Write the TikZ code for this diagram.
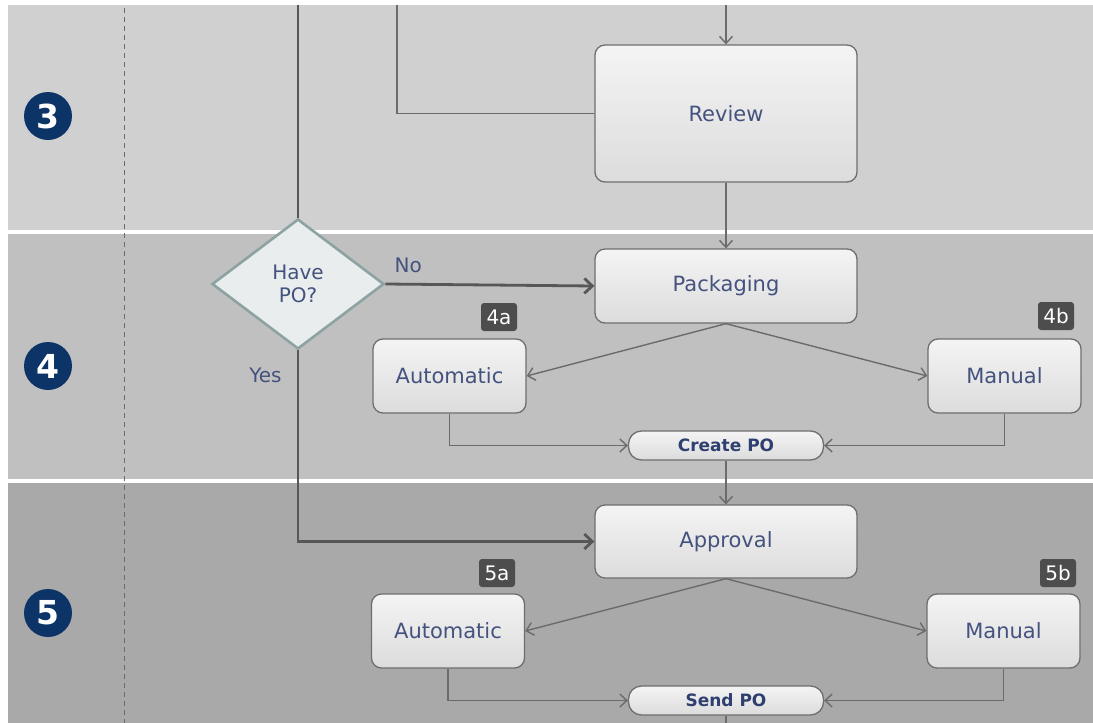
\documentclass[tikz,border=0pt]{standalone}
\usepackage{fontspec}
\setmainfont{DejaVu Sans}
\usetikzlibrary{arrows.meta,shapes.geometric}
\definecolor{laneA}{HTML}{D0D0D0}
\definecolor{laneB}{HTML}{C0C0C0}
\definecolor{laneC}{HTML}{A9A9A9}
\definecolor{boxtop}{HTML}{F4F4F4}
\definecolor{boxbot}{HTML}{DCDCDC}
\definecolor{boxline}{HTML}{6E6E6E}
\definecolor{txt}{HTML}{44527E}
\definecolor{txtb}{HTML}{2F4070}
\definecolor{badgefill}{HTML}{4D4D4D}
\definecolor{navy}{HTML}{0C3467}
\definecolor{lineclr}{HTML}{6B6B6B}
\definecolor{heavyclr}{HTML}{575757}
\definecolor{diaedge}{HTML}{8DA2A2}
\definecolor{diafill}{HTML}{E9EDED}
\tikzset{
 box/.style={draw=boxline, line width=1.3pt, rounded corners=10pt, top color=boxtop, bottom color=boxbot, text=txt, font=\fontsize{21}{25}\selectfont, inner sep=0pt},
 pill/.style={draw=boxline, line width=1.3pt, rounded corners=13pt, top color=boxtop, bottom color=boxbot, text=txtb, font=\bfseries\fontsize{17}{19}\selectfont, inner sep=0pt, minimum width=195pt, minimum height=29pt},
 badge/.style={fill=badgefill, rounded corners=3pt, text=white, font=\fontsize{20}{22}\selectfont, minimum width=36pt, minimum height=28pt, inner sep=0pt},
 num/.style={circle, fill=navy, text=white, font=\bfseries\fontsize{33}{35}\selectfont, minimum size=48pt, inner sep=0pt},
 conn/.style={draw=lineclr, line width=1.4pt},
 arr/.style={conn, -{Straight Barb[length=7pt,width=13pt]}},
 heavy/.style={draw=heavyclr, line width=2.8pt},
 harr/.style={heavy, -{Straight Barb[length=8pt,width=15pt]}},
 lbl/.style={text=txt, font=\fontsize{20}{24}\selectfont, inner sep=0pt},
 dec/.style={diamond, draw=diaedge, line width=2.6pt, fill=diafill, minimum width=172pt, minimum height=130pt, inner sep=0pt, text=txt, font=\fontsize{20}{23}\selectfont, align=center},
 auto/.style={box, minimum width=153pt, minimum height=74pt},
 big/.style={box, minimum width=262pt}
}
\begin{document}
\begin{tikzpicture}[x=1pt,y=-1pt]
\useasboundingbox (0,0) rectangle (1093,723);
\fill[white] (0,0) rectangle (1093,723);
% lanes
\fill[laneA] (8,5) rectangle (1093,230);
\fill[laneB] (8,234) rectangle (1093,479);
\fill[laneC] (8,483) rectangle (1093,723);
\draw[lineclr, line width=1pt, dash pattern=on 5pt off 4pt] (124,8) -- (124,723);
% step numbers
\node[num] (n3) at (48,116) {3};
\node[num] (n4) at (48,366) {4};
\node[num] (n5) at (48,613) {5};
% nodes
\node[big, minimum height=137pt] (rev) at (726,113.5) {Review};
\node[big, minimum height=74pt] (pack) at (726,286) {Packaging};
\node[dec] (dia) at (298,284) {Have\\PO?};
\node[auto] (a4) at (449.5,376) {Automatic};
\node[auto] (m4) at (1004.5,376) {Manual};
\node[badge] (b4a) at (499,317) {4a};
\node[badge] (b4b) at (1056,316) {4b};
\node[pill] (cpo) at (726,445.5) {Create PO};
\node[big, minimum height=73pt] (appr) at (726,541.5) {Approval};
\node[auto] (a5) at (448,631) {Automatic};
\node[auto] (m5) at (1003.5,631) {Manual};
\node[badge] (b5a) at (497,573) {5a};
\node[badge] (b5b) at (1058,573) {5b};
\node[pill] (spo) at (726,700.5) {Send PO};
% free ends
\coordinate (t1) at (298,5);
\coordinate (t2) at (397,5);
\coordinate (t3) at (726,5);
\coordinate (bot) at (726,723);
% connectors
\draw[heavy] (t1) -- (dia.north);
\draw[conn] (t2) |- (rev.west);
\draw[arr] (t3) -- (rev.north);
\draw[arr] (rev.south) -- (pack.north);
\draw[harr] (dia.east) -- node[lbl, pos=0.11, above=10pt] {No} (pack.west);
\draw[harr] (dia.south) |- node[lbl, pos=0.065, left=15pt] {Yes} (appr.west);
\draw[arr] (pack.south) -- (a4.east);
\draw[arr] (pack.south) -- (m4.west);
\draw[arr] (a4.south) |- (cpo.west);
\draw[arr] (m4.south) |- (cpo.east);
\draw[arr] (cpo.south) -- (appr.north);
\draw[arr] (appr.south) -- (a5.east);
\draw[arr] (appr.south) -- (m5.west);
\draw[arr] (a5.south) |- (spo.west);
\draw[arr] (m5.south) |- (spo.east);
\draw[conn] (spo.south) -- (bot);
\end{tikzpicture}
\end{document}
